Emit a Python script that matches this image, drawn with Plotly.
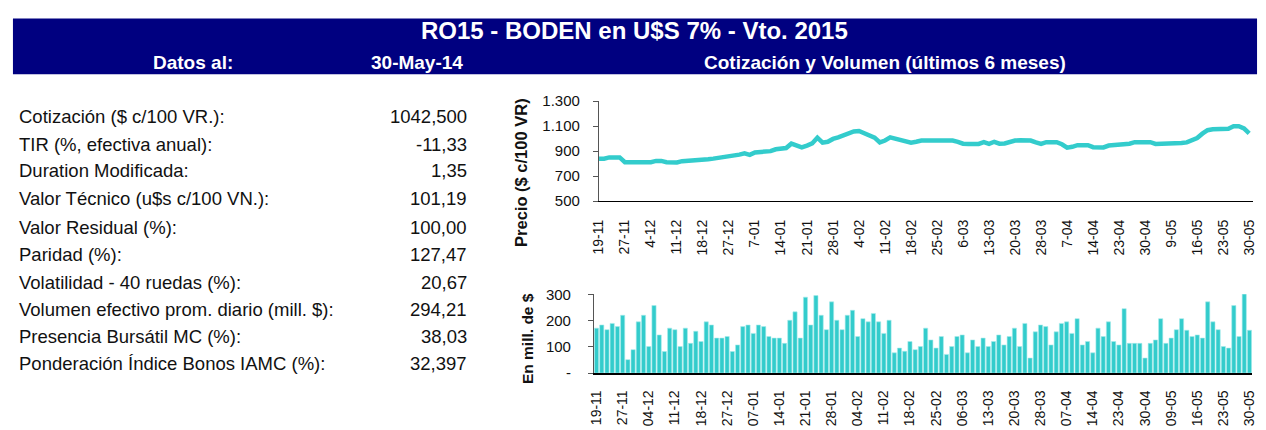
import plotly.graph_objects as go

W, H = 1266, 430

# Trading days (Nov 2013 - May 2014), by month
trading_days = {
    "2013-11": [19, 20, 21, 22, 26, 27, 28, 29],
    "2013-12": [2, 3, 4, 5, 6, 9, 10, 11, 12, 13, 16, 17, 18, 19, 20, 23, 26, 27, 30],
    "2014-01": [2, 3, 6, 7, 8, 9, 10, 13, 14, 15, 16, 17, 20, 21, 22, 23, 24, 27, 28, 29, 30, 31],
    "2014-02": [3, 4, 5, 6, 7, 10, 11, 12, 13, 14, 17, 18, 19, 20, 21, 24, 25, 26, 27, 28],
    "2014-03": [5, 6, 7, 10, 11, 12, 13, 14, 17, 18, 19, 20, 21, 25, 26, 27, 28, 31],
    "2014-04": [1, 3, 4, 7, 8, 9, 10, 11, 14, 15, 16, 21, 22, 23, 24, 25, 28, 29, 30],
    "2014-05": [5, 6, 7, 8, 9, 12, 13, 14, 15, 16, 19, 20, 21, 22, 23, 26, 27, 28, 29, 30],
}
dates = [f"{ym}-{d:02d}" for ym, days in trading_days.items() for d in days]

# Price ($ c/100 VR)
price = [
    840, 840, 850, 850, 850, 812, 812, 812, 812, 812,
    812, 822, 822, 812, 810, 810, 820, 822, 822, 822,
    825, 835, 840, 845, 855, 860, 868, 872, 882, 870,
    890, 892, 895, 900, 915, 922, 925, 960, 942, 930,
    945, 962, 1008, 968, 975, 998, 1010, 1025, 1045, 1058,
    1062, 1045, 1020, 1008, 970, 985, 1010, 998, 990, 982,
    968, 975, 985, 985, 985, 985, 985, 985, 985, 975,
    960, 958, 958, 958, 972, 958, 975, 960, 962, 975,
    985, 987, 987, 985, 970, 958, 972, 972, 972, 955,
    928, 935, 948, 948, 948, 932, 930, 930, 945, 948,
    948, 948, 960, 972, 972, 972, 972, 958, 958, 958,
    958, 958, 965, 970, 985, 1005, 1040, 1068, 1075, 1075,
    1075, 1080, 1100, 1100, 1082, 1042.5,
]

# Daily traded volume (mill. $)
volume = [
    171, 183, 165, 189, 177, 220, 51, 89, 195, 220,
    101, 257, 145, 82, 171, 165, 101, 171, 113, 159,
    120, 195, 183, 133, 133, 139, 82, 107, 177, 183,
    151, 183, 177, 139, 133, 133, 113, 201, 233, 133,
    289, 183, 295, 220, 165, 271, 201, 165, 220, 239,
    139, 207, 195, 227, 195, 151, 201, 77, 95, 83,
    120, 89, 101, 171, 126, 95, 139, 71, 101, 139,
    145, 77, 126, 101, 133, 101, 120, 145, 107, 139,
    171, 101, 189, 57, 157, 183, 177, 107, 157, 189,
    195, 151, 207, 107, 120, 77, 171, 139, 195, 120,
    107, 245, 113, 113, 113, 57, 113, 126, 207, 113,
    133, 165, 207, 163, 139, 145, 133, 271, 195, 165,
    101, 95, 257, 139, 307, 163,
]

# Summary table
stat_labels = [
    "Cotización ($ c/100 VR.):",
    "TIR (%, efectiva anual):",
    "Duration Modificada:",
    "Valor Técnico (u$s c/100 VN.):",
    "Valor Residual (%):",
    "Paridad (%):",
    "Volatilidad - 40 ruedas (%):",
    "Volumen efectivo prom. diario (mill. $):",
    "Presencia Bursátil MC (%):",
    "Ponderación Índice Bonos IAMC (%):",
]
stat_values = ["1042,500", "-11,33", "1,35", "101,19", "100,00",
               "127,47", "20,67", "294,21", "38,03", "32,397"]

title_text = "RO15 - BODEN en U$S 7% - Vto. 2015"
date_caption = "Datos al:"
date_value = "30-May-14"
chart_caption = "Cotización y Volumen (últimos 6 meses)"

FONT = "Liberation Sans, Arial, sans-serif"
TEAL = "#33CCCC"
NAVY = "#000080"
INK = "#111111"


def px_x(x):
    return x / W


def px_y(y):
    return 1 - y / H


tick_idx = list(range(0, len(dates), 5))
tick_vals = [dates[i] for i in tick_idx]


def lbl_short(d):
    _, m, day = d.split("-")
    return f"{int(day)}-{m}"


def lbl_long(d):
    _, m, day = d.split("-")
    return f"{day}-{m}"


fig = go.Figure()
fig.add_trace(go.Scatter(
    x=dates, y=price, mode="lines",
    line=dict(color=TEAL, width=4.5),
    xaxis="x", yaxis="y", hoverinfo="skip", showlegend=False,
))
fig.add_trace(go.Bar(
    x=dates, y=volume,
    marker=dict(color=TEAL, line=dict(color="#A8EBEB", width=0.6)),
    xaxis="x2", yaxis="y2", hoverinfo="skip", showlegend=False,
))

xtick_font = dict(family=FONT, size=14, color=INK)
ytick_font = dict(family=FONT, size=15, color=INK)

fig.update_layout(
    width=W, height=H,
    margin=dict(l=0, r=0, t=0, b=0),
    paper_bgcolor="white", plot_bgcolor="white",
    separators=",.",
    bargap=0.2,
    font=dict(family=FONT, color=INK),
    xaxis=dict(
        type="category", domain=[px_x(597), px_x(1258)],
        range=[0, 125.75], anchor="y",
        tickmode="array", tickvals=tick_vals,
        ticktext=[lbl_short(d) for d in tick_vals],
        tickangle=-90, tickfont=xtick_font, ticks="",
        ticklabelstandoff=12,
        showline=True, linecolor="#000000", linewidth=1.2,
        showgrid=False, zeroline=False,
    ),
    yaxis=dict(
        domain=[px_y(200), px_y(96)], range=[500, 1300],
        tickmode="linear", tick0=500, dtick=200, tickformat=",d",
        tickfont=ytick_font, ticks="outside", ticklen=5,
        tickcolor="#555555", showline=True, linecolor="#555555",
        linewidth=1, showgrid=False, zeroline=False, anchor="x",
        ticklabelstandoff=10,
    ),
    xaxis2=dict(
        type="category", domain=[px_x(592), px_x(1257)],
        range=[-0.5, 125.5], anchor="y2",
        tickmode="array", tickvals=tick_vals,
        ticktext=[lbl_long(d) for d in tick_vals],
        tickangle=-90, tickfont=xtick_font, ticks="",
        ticklabelstandoff=10,
        showline=True, linecolor="#000000", linewidth=1.5,
        showgrid=False, zeroline=False,
    ),
    yaxis2=dict(
        domain=[px_y(379), px_y(297)], range=[0, 300],
        tickmode="array", tickvals=[0, 100, 200, 300],
        ticktext=["-", "100", "200", "300"],
        tickfont=ytick_font, ticks="outside", ticklen=5,
        tickcolor="#555555", showline=True, linecolor="#555555",
        linewidth=1, showgrid=False, zeroline=False, anchor="x2",
        ticklabelstandoff=14,
    ),
)

# Header band
fig.add_shape(type="rect", xref="paper", yref="paper",
              x0=px_x(5), x1=px_x(1262), y0=px_y(68), y1=px_y(10),
              fillcolor=NAVY, line=dict(width=0), layer="below")

hdr = [
    dict(text=f"<b>{title_text}</b>", x=px_x(633), y=px_y(22), size=24),
    dict(text=f"<b>{date_caption}</b>", x=px_x(187), y=px_y(56), size=19),
    dict(text=f"<b>{date_value}</b>", x=px_x(413), y=px_y(56), size=19),
    dict(text=f"<b>{chart_caption}</b>", x=px_x(886), y=px_y(56), size=19),
]
for a in hdr:
    fig.add_annotation(text=a["text"], x=a["x"], y=a["y"],
                       xref="paper", yref="paper", showarrow=False,
                       xanchor="center", yanchor="middle",
                       font=dict(size=a["size"], color="white", family=FONT))

# Axis titles
fig.add_annotation(text="<b>Precio ($ c/100 VR)</b>", xref="paper", yref="paper",
                   x=px_x(519), y=px_y(170), textangle=-90, showarrow=False,
                   xanchor="center", yanchor="middle",
                   font=dict(size=16.5, color=INK, family=FONT))
fig.add_annotation(text="<b>En mill. de $</b>", xref="paper", yref="paper",
                   x=px_x(525), y=px_y(343), textangle=-90, showarrow=False,
                   xanchor="center", yanchor="middle",
                   font=dict(size=15.5, color=INK, family=FONT))

# Summary table rows
row_y = [112, 141, 168, 197, 227, 256, 285, 313, 341, 369]
for lab, val, yy in zip(stat_labels, stat_values, row_y):
    fig.add_annotation(text=lab, xref="paper", yref="paper", x=px_x(9), y=px_y(yy),
                       xanchor="left", yanchor="middle", showarrow=False,
                       font=dict(size=18.5, color=INK, family=FONT))
    fig.add_annotation(text=val, xref="paper", yref="paper", x=px_x(466), y=px_y(yy),
                       xanchor="right", yanchor="middle", showarrow=False,
                       font=dict(size=18.5, color=INK, family=FONT))

fig.write_html("out.html")
